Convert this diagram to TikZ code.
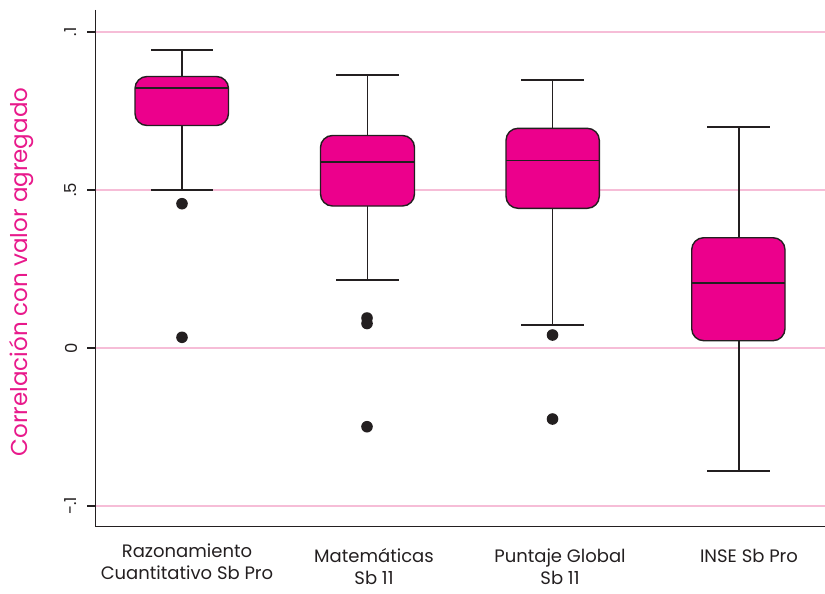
\documentclass[tikz,border=0pt]{standalone}
\usepackage{fontspec}
\setmainfont{Poppins}
\definecolor{boxfill}{HTML}{EC008C}
\definecolor{ink}{HTML}{231F20}
\definecolor{gridpink}{HTML}{F6BDD7}
\definecolor{titlemag}{HTML}{E8198B}
\begin{document}
\begin{tikzpicture}[x=1pt,y=-1pt,
  gridline/.style={draw=gridpink,line width=1.6pt},
  axisline/.style={draw=ink,line width=1.6pt},
  whisk/.style={draw=ink,line width=1.6pt},
  boxbody/.style={draw=ink,fill=boxfill,line width=1.4pt,rounded corners=12pt},
  outlier/.style={fill=ink,draw=none},
  ticklab/.style={font=\fontsize{16.5}{18}\selectfont,text=ink,rotate=90,anchor=center},
  catlab/.style={font=\fontsize{18}{22}\selectfont,text=ink,align=center,anchor=center}]
\useasboundingbox (0,0) rectangle (825,594);
% grid
\foreach \yy in {32,190,348,506} \draw[gridline] (96,\yy) -- (825,\yy);
% axes
\coordinate (o) at (95.5,526.5);
\coordinate (top) at (95.5,10);
\coordinate (right) at (825,526.5);
\draw[axisline] (top) -- (o) -- (right);
\foreach \yy/\lab in {32/.1,190/.5,348/0,506/-.1}{
  \draw[axisline] (87,\yy) -- (96,\yy);
  \node[ticklab] at (71,\yy) {\lab};
}
\node[rotate=90,text=titlemag,font=\fontsize{23}{26}\selectfont] (ytitle) at (22,272) {Correlación con valor agregado};
% box 1
\draw[whisk] (182,50) -- (182,190);
\draw[whisk] (151,50) -- (213,50);
\draw[whisk] (151,190) -- (213,190);
\draw[boxbody] (135,76.5) rectangle (228.5,125.5);
\draw[whisk] (135,88) -- (228.5,88);
\fill[outlier] (182,203.7) circle (5.8);
\fill[outlier] (182,337.3) circle (5.8);
% box 2
\draw[whisk] (367.5,75) -- (367.5,280);
\draw[whisk] (336,75) -- (399,75);
\draw[whisk] (336,280) -- (399,280);
\draw[boxbody] (320.5,135.5) rectangle (414.5,206);
\draw[whisk] (320.5,161.7) -- (414.5,161.7);
\fill[outlier] (367,318) circle (5.8);
\fill[outlier] (367,323.5) circle (5.8);
\fill[outlier] (367,426.7) circle (5.8);
% box 3
\draw[whisk] (552.5,80) -- (552.5,325);
\draw[whisk] (521,80) -- (584,80);
\draw[whisk] (521,325) -- (584,325);
\draw[boxbody] (506,128.3) rectangle (599.3,208.3);
\draw[whisk] (506,160.3) -- (599.3,160.3);
\fill[outlier] (552.5,335) circle (5.8);
\fill[outlier] (552.5,419) circle (5.8);
% box 4
\draw[whisk] (738.7,126.7) -- (738.7,470.7);
\draw[whisk] (707.3,126.7) -- (770,126.7);
\draw[whisk] (707.3,470.7) -- (770,470.7);
\draw[boxbody] (691.7,237.7) rectangle (785,340.7);
\draw[whisk] (691.7,282.7) -- (785,282.7);
% category labels
\node[catlab] (c1) at (187,562) {Razonamiento\\Cuantitativo Sb Pro};
\node[catlab] (c2) at (374,567) {Matemáticas\\Sb 11};
\node[catlab] (c3) at (560,567) {Puntaje Global\\Sb 11};
\node[catlab] (c4) at (749,556) {INSE Sb Pro};
\end{tikzpicture}
\end{document}
